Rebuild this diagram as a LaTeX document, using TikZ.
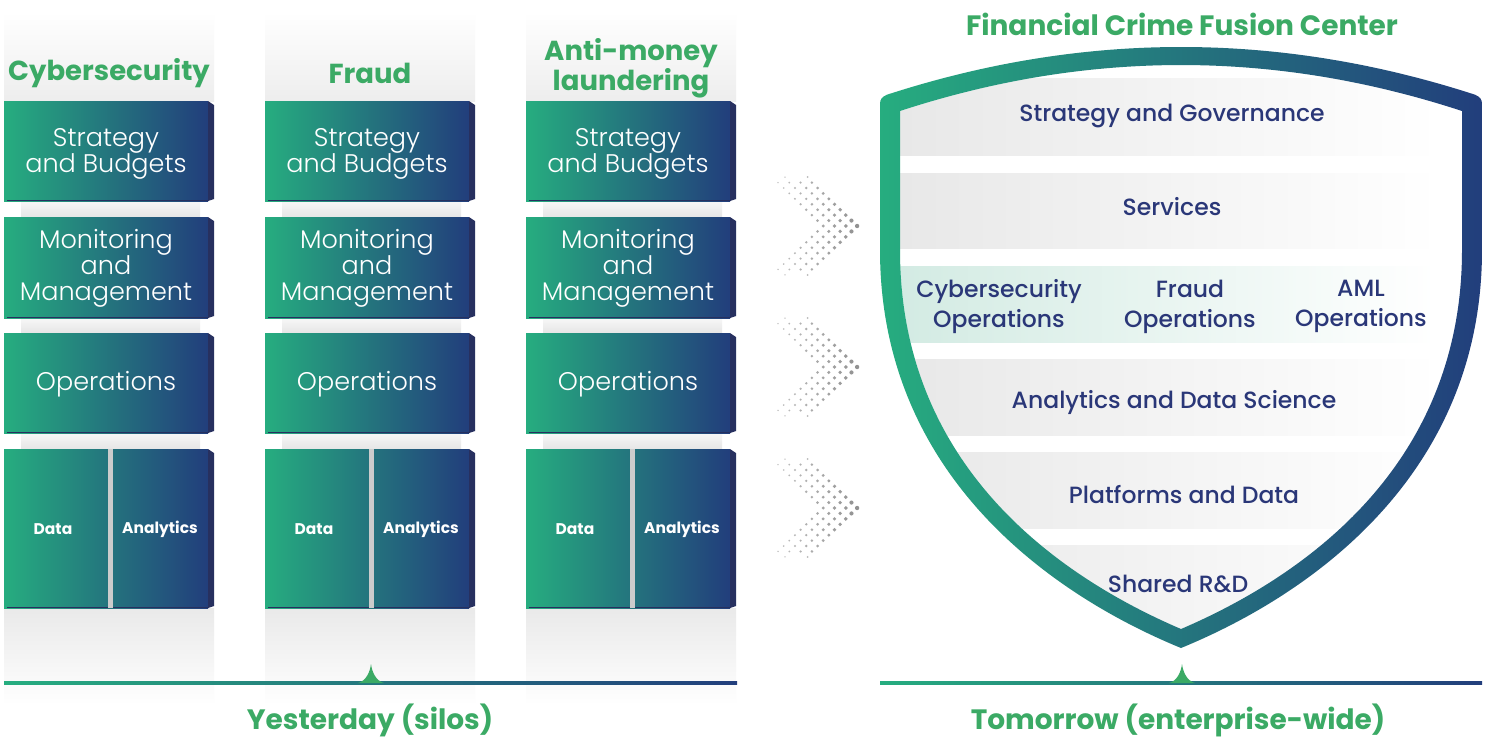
\documentclass[tikz,border=0pt]{standalone}
\usepackage{fontspec}
\setmainfont{Poppins}
\IfFontExistsTF{Poppins Light}{\newfontfamily\lightf{Poppins Light}}{\newfontfamily\lightf{Poppins}}
\IfFontExistsTF{Poppins Medium}{\newfontfamily\medf{Poppins Medium}}{\newfontfamily\medf{Poppins}}
\definecolor{cgreen}{RGB}{38,173,127}
\definecolor{cblue}{RGB}{34,62,124}
\definecolor{cside}{RGB}{39,48,95}
\definecolor{tgreen}{RGB}{59,170,101}
\definecolor{navy}{RGB}{42,55,120}
\definecolor{dotgray}{RGB}{140,140,140}
\definecolor{bandgray}{RGB}{232,232,232}
\definecolor{bandteal}{RGB}{211,235,227}
\def\shieldouter{(880,250) -- (880,104) .. controls (880,99) and (882,97) .. (887,94.7) .. controls (1083,31.1) and (1279,31.1) .. (1475,94.7) .. controls (1480,97) and (1482,99) .. (1482,104) -- (1482,250) .. controls (1482,472) and (1315,593) .. (1181,648) .. controls (1047,593) and (880,472) .. (880,250) -- cycle}
\def\shieldinner{(900,250) -- (900,111) .. controls (1087.3,49.7) and (1274.7,49.7) .. (1462,111) -- (1462,250) .. controls (1462,464) and (1307,575) .. (1181,629) .. controls (1055,575) and (900,464) .. (900,250) -- cycle}
\begin{document}
\begin{tikzpicture}[x=1pt,y=-1pt,
  boxtxt/.style={text=white,align=center,inner sep=0pt,font=\lightf\fontsize{25.5}{26}\selectfont},
  smalltxt/.style={text=white,inner sep=0pt,font=\bfseries\fontsize{15.5}{16}\selectfont},
  coltitle/.style={text=tgreen,align=center,inner sep=0pt,font=\bfseries\fontsize{27.5}{30}\selectfont},
  bandtxt/.style={text=navy,align=center,inner sep=0pt,font=\medf\fontsize{23.5}{30}\selectfont},
  bottomtxt/.style={text=tgreen,inner sep=0pt,font=\bfseries\fontsize{28}{30}\selectfont},
  marker/.style={fill=tgreen}]
\useasboundingbox (0,0) rectangle (1489,753);
\fill[white] (0,0) rectangle (1489,753);

% ---------- silo columns ----------
\foreach \cx/\nm in {4/a,265/b,526/c}{
  \shade[top color=white,bottom color=gray!14] (\cx,12) rectangle (\cx+210,101);
  \shade[top color=gray!17,bottom color=white] (\cx,608) rectangle (\cx+210,705);
  \foreach \ya/\yb in {201/217,318/333,433/449}{
    \shade[top color=gray!6,bottom color=gray!20] (\cx+17,\ya) rectangle (\cx+196,\yb);
  }
  \foreach \ya/\yb in {101/201,217/318,333/433,449/608}{
    \shade[left color=cgreen,right color=cblue] (\cx,\ya) rectangle (\cx+204,\yb);
    \fill[cside] (\cx+204,\ya) -- (\cx+210,\ya+4) -- (\cx+210,\yb-2) -- (\cx+204,\yb) -- cycle;
    \draw[cside,line width=1.2pt] (\cx+3,\yb-0.6) -- (\cx+204,\yb-0.6);
  }
  \fill[gray!40] (\cx+104,449) rectangle (\cx+108.5,608);
  \node[boxtxt] (\nm-s) at (\cx+102,153.5) {Strategy\\and Budgets};
  \node[boxtxt] (\nm-m) at (\cx+102,268.5) {Monitoring\\and\\Management};
  \node[boxtxt] (\nm-o) at (\cx+102,384.5) {Operations};
  \node[smalltxt] (\nm-d) at (\cx+49,529) {Data};
  \node[smalltxt] (\nm-an) at (\cx+156,529) {Analytics};
}
\node[coltitle] (t-a) at (109,73.5) {Cybersecurity};
\node[coltitle] (t-b) at (370,73.5) {Fraud};
\node[coltitle] (t-c) at (631,68.5) {Anti-money\\laundering};

% ---------- chevrons ----------
\foreach \cy in {226,367,508}{
  \foreach \r in {-8,...,8}{
    \pgfmathsetmacro\off{(8-abs(\r))*5.65}
    \foreach \k in {0,1,2,3}{
      \pgfmathsetmacro\xx{778+\off+\k*11.3}
      \pgfmathsetmacro\rad{0.8+(\xx-778)/80*1.4}
      \pgfmathsetmacro\shd{55+(\xx-778)/80*40}
      \fill[dotgray!\shd!white] (\xx,\cy+\r*5.43) circle[radius=\rad pt];
    }
  }
  \fill[dotgray!55!white] (785,\cy-48.9) circle[radius=0.8pt];
  \fill[dotgray!60!white] (807.6,\cy-48.9) circle[radius=1pt];
  \fill[dotgray!55!white] (785,\cy+48.9) circle[radius=0.8pt];
  \fill[dotgray!60!white] (807.6,\cy+48.9) circle[radius=1pt];
}

% ---------- shield ----------
\begin{scope}
  \clip \shieldinner;
  \shade[left color=bandgray,right color=white] (900,78) rectangle (1440,155);
  \shade[left color=bandgray,right color=white] (900,173) rectangle (1440,248);
  \shade[left color=bandteal,right color=white] (900,266) rectangle (1436,342);
  \shade[left color=bandgray,right color=white] (900,359) rectangle (1440,435);
  \shade[left color=bandgray,right color=white] (900,452) rectangle (1440,528);
  \shade[left color=bandgray,right color=white] (900,545) rectangle (1440,650);
\end{scope}
\shade[left color=cgreen,right color=cblue,even odd rule] \shieldouter \shieldinner;

\node[bandtxt] (sg) at (1172,116) {Strategy and Governance};
\node[bandtxt] (sv) at (1172,207) {Services};
\node[bandtxt] (co) at (999,306.5) {Cybersecurity\\Operations};
\node[bandtxt] (fo) at (1190,306.5) {Fraud\\Operations};
\node[bandtxt] (ao) at (1361,306.5) {AML\\Operations};
\node[bandtxt] (ad) at (1174,402) {Analytics and Data Science};
\node[bandtxt] (pd) at (1184,495) {Platforms and Data};
\node[bandtxt] (rd) at (1178,583.5) {Shared R\&D};
\node[coltitle,font=\bfseries\fontsize{28}{30}\selectfont] (fc) at (1182,24.5) {Financial Crime Fusion Center};

% ---------- baselines ----------
\shade[left color=cgreen,right color=cblue] (4,681.5) rectangle (737,684.5);
\shade[left color=cgreen,right color=cblue] (880,681.5) rectangle (1482,684.5);
\coordinate (mk1) at (371,683);
\coordinate (mk2) at (1182,683);
\foreach \m in {mk1,mk2}{
  \fill[marker] ([xshift=-13pt]\m) .. controls ([xshift=-5pt,yshift=2pt]\m) and ([xshift=-1pt,yshift=11pt]\m) .. ([yshift=19pt]\m)
     .. controls ([xshift=1pt,yshift=11pt]\m) and ([xshift=5pt,yshift=2pt]\m) .. ([xshift=13pt]\m) -- cycle;
}
\node[bottomtxt] (yl) at (370,720) {Yesterday (silos)};
\node[bottomtxt] (tl) at (1178,720) {Tomorrow (enterprise-wide)};
\end{tikzpicture}
\end{document}
